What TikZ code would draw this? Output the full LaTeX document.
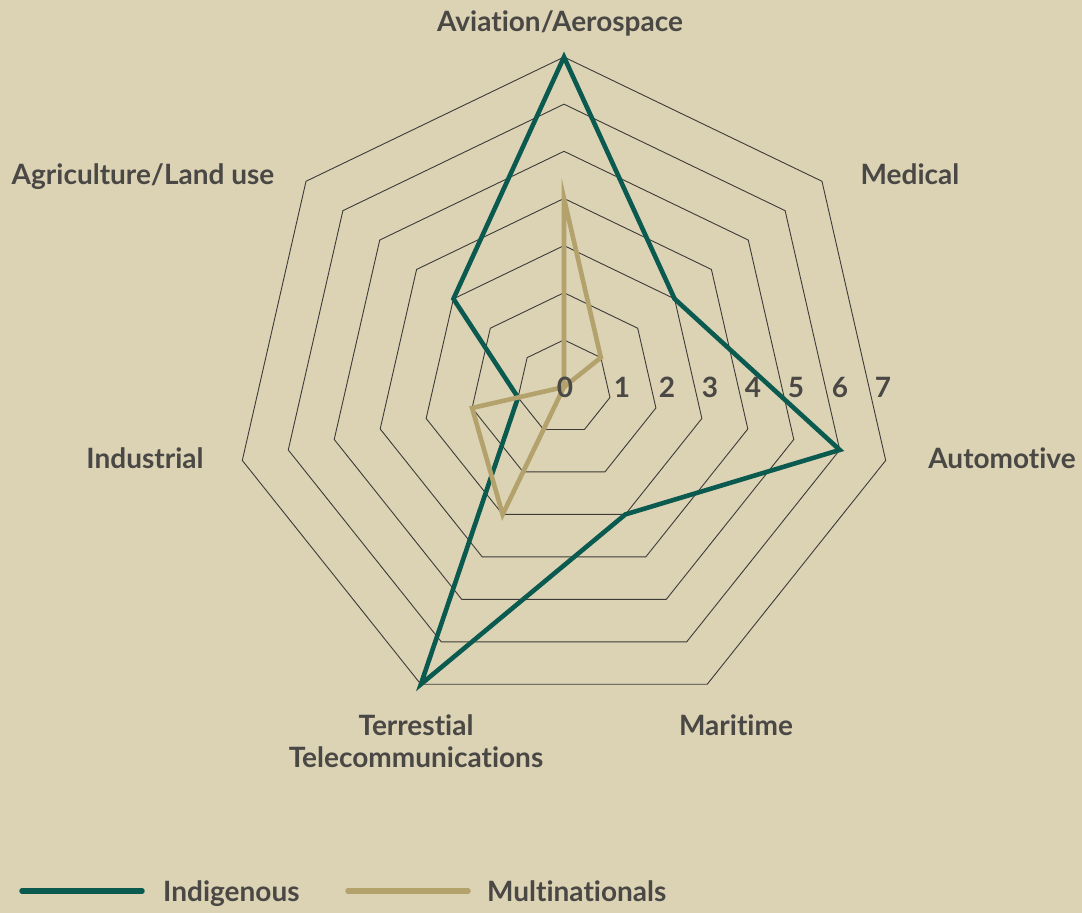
\documentclass[tikz,border=0pt]{standalone}
\usepackage{fontspec}
\setmainfont{Lato}[Ligatures=NoCommon]
\definecolor{bg}{HTML}{DCD3B5}
\definecolor{txt}{HTML}{4A4845}
\definecolor{gridc}{HTML}{3C3B38}
\definecolor{indig}{HTML}{0B5A50}
\definecolor{multi}{HTML}{B3A26C}
\begin{document}
\begin{tikzpicture}[x=1pt,y=1pt,
  lbl/.style={font=\fontsize{28}{32}\selectfont\bfseries, text=txt, inner sep=0pt, text height=20pt, text depth=0pt},
  gridline/.style={draw=gridc, line width=0.9pt},
  series/.style={line width=4.6pt, line join=miter},
  legline/.style={line width=5.5pt, line cap=round}]
\fill[bg] (0,0) rectangle (1082,-913);
\useasboundingbox (0,0) rectangle (1082,-913);
\begin{scope}[shift={(564,-387)}]
  \def\u{47.14}
  \foreach \k in {1,...,7}{
    \draw[gridline] (90:\k*\u) \foreach \i in {1,...,6}{ -- (90-\i*360/7:\k*\u)} -- cycle;
  }
  % Indigenous
  \coordinate (i1) at (90:7*\u);
  \coordinate (i2) at (90-1*360/7:3*\u);
  \coordinate (i3) at (90-2*360/7:6*\u);
  \coordinate (i4) at (90-3*360/7:3*\u);
  \coordinate (i5) at (90-4*360/7:7*\u);
  \coordinate (i6) at (90-5*360/7:1*\u);
  \coordinate (i7) at (90-6*360/7:3*\u);
  \draw[series, indig] (i1) -- (i2) -- (i3) -- (i4) -- (i5) -- (i6) -- (i7) -- cycle;
  % Multinationals
  \coordinate (m1) at (90:4*\u);
  \coordinate (m2) at (90-1*360/7:1*\u);
  \coordinate (m3) at (0,0);
  \coordinate (m5) at (90-4*360/7:3*\u);
  \coordinate (m6) at (90-5*360/7:2*\u);
  \draw[series, multi] (m1) -- (m2) -- (m3) -- (m5) -- (m6) -- (m3) -- cycle;
\end{scope}
% scale labels
\node[lbl] (t0) at (565,-387) {0};
\node[lbl] (t1) at (622,-387) {1};
\node[lbl] (t2) at (667,-387) {2};
\node[lbl] (t3) at (710,-387) {3};
\node[lbl] (t4) at (753,-387) {4};
\node[lbl] (t5) at (796,-387) {5};
\node[lbl] (t6) at (840,-387) {6};
\node[lbl] (t7) at (883,-387) {7};
% axis labels
\node[lbl] (lav) at (560,-21) {Aviation/Aerospace};
\node[lbl] (lmed) at (910,-174) {Medical};
\node[lbl] (lagr) at (143,-174) {Agriculture/Land use};
\node[lbl] (laut) at (1002,-458) {Automotive};
\node[lbl] (lind) at (145,-458) {Industrial};
\node[lbl] (lmar) at (736,-725) {Maritime};
\node[lbl, align=center] (lter) at (416,-757) {Terrestial\\[0pt]Telecommunications};
% legend
\coordinate (la1) at (22,-891);
\coordinate (la2) at (142,-891);
\coordinate (lb1) at (348,-891);
\coordinate (lb2) at (468,-891);
\draw[legline, indig] (la1) -- (la2);
\draw[legline, multi] (lb1) -- (lb2);
\node[lbl, anchor=west] (legi) at (163,-891) {Indigenous};
\node[lbl, anchor=west] (legm) at (487,-891) {Multinationals};
\end{tikzpicture}
\end{document}
